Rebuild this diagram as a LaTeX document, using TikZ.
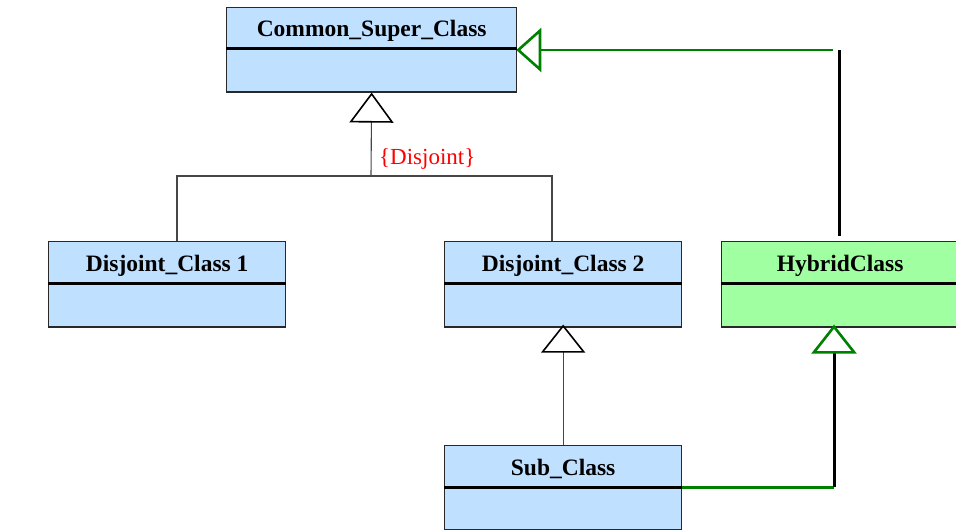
\documentclass[tikz,border=0pt]{standalone}
\usepackage{fontspec}
\setmainfont{Liberation Serif}
\usetikzlibrary{arrows.meta}
\definecolor{clsblue}{RGB}{191,224,255}
\definecolor{clsgreen}{RGB}{160,255,160}
\definecolor{lngreen}{RGB}{0,128,0}
\definecolor{bord}{RGB}{40,40,40}
\definecolor{thingray}{RGB}{70,70,70}
\begin{document}
\begin{tikzpicture}[x=1pt,y=-1pt,
  head/.style={draw=bord, line width=1.3pt, minimum width=237pt, minimum height=41pt,
    inner sep=0pt, anchor=north west, text height=18pt, text depth=0pt,
    font=\fontsize{23.5}{28}\selectfont\bfseries},
  body/.style={draw=bord, line width=1.3pt, minimum width=237pt, minimum height=43pt,
    inner sep=0pt, anchor=north},
  divider/.style={line width=2.4pt, black},
  thinln/.style={draw=thingray, line width=1.1pt},
  blackln/.style={draw=black, line width=3pt},
  greenln/.style={draw=lngreen, line width=2.6pt},
]
\useasboundingbox (0,0) rectangle (956,530);

% Common_Super_Class
\node[head, fill=clsblue, minimum width=290pt, minimum height=40pt] (common) at (226,7) {Common\_Super\_Class};
\node[body, fill=clsblue, minimum width=290pt] (common-b) at (common.south) {};
\draw[divider] (common.south west) -- (common.south east);

% Disjoint_Class 1
\node[head, fill=clsblue] (dc1) at (48,241) {Disjoint\_Class 1};
\node[body, fill=clsblue] (dc1-b) at (dc1.south) {};
\draw[divider] (dc1.south west) -- (dc1.south east);

% Disjoint_Class 2
\node[head, fill=clsblue] (dc2) at (444,241) {Disjoint\_Class 2};
\node[body, fill=clsblue] (dc2-b) at (dc2.south) {};
\draw[divider] (dc2.south west) -- (dc2.south east);

% HybridClass
\node[head, fill=clsgreen] (hyb) at (721,241) {HybridClass};
\node[body, fill=clsgreen] (hyb-b) at (hyb.south) {};
\draw[divider] (hyb.south west) -- (hyb.south east);

% Sub_Class
\node[head, fill=clsblue] (sub) at (444,445) {Sub\_Class};
\node[body, fill=clsblue, minimum height=42pt] (sub-b) at (sub.south) {};
\draw[divider] (sub.south west) -- (sub.south east);

% Disjoint generalization
\coordinate (jn) at (371,176);
\coordinate (j1) at (177,176);
\coordinate (j2) at (552,176);
\draw[thinln] (dc1.north -| j1) -- (j1) -- (j2) -- (dc2.north -| j2);
\draw[thinln, -{Triangle[open, length=30pt, width=44pt, line width=1.6pt, color=black]}] (jn) -- (common-b.south);
\node[text=red, font=\fontsize{23}{27}\selectfont, anchor=west, inner sep=0pt] (lbl) at (379,159) {\{Disjoint\}};

% Sub_Class -> Disjoint_Class 2
\draw[thinln, shorten >=-3pt, -{Triangle[open, length=28pt, width=44pt, line width=1.6pt, color=black]}] (sub.north) -- (dc2-b.south);

% Sub_Class -> HybridClass
\coordinate (s2) at (834,352);
\coordinate (s1) at (s2 |- sub.south east);
\draw[greenln] (sub.south east) -- (s1);
\draw[blackln] (s1) -- (s2);
\draw[draw=lngreen, line width=0.1pt, shorten >=-3pt, -{Triangle[open, length=29pt, width=45pt, line width=2.6pt]}] (s2) -- (s2 |- hyb-b.south);

% HybridClass -> Common_Super_Class
\coordinate (h1) at (839,236);
\coordinate (h2) at (839,50);
\coordinate (h3) at (833,50);
\coordinate (h4) at (541,50);
\draw[blackln] (h1) -- (h2);
\draw[greenln] (h3) -- (h4);
\draw[draw=lngreen, line width=0.1pt, shorten >=-1pt, -{Triangle[open, length=25pt, width=44pt, line width=2.6pt]}] (h4) -- (h4 -| common.east);
\end{tikzpicture}
\end{document}
